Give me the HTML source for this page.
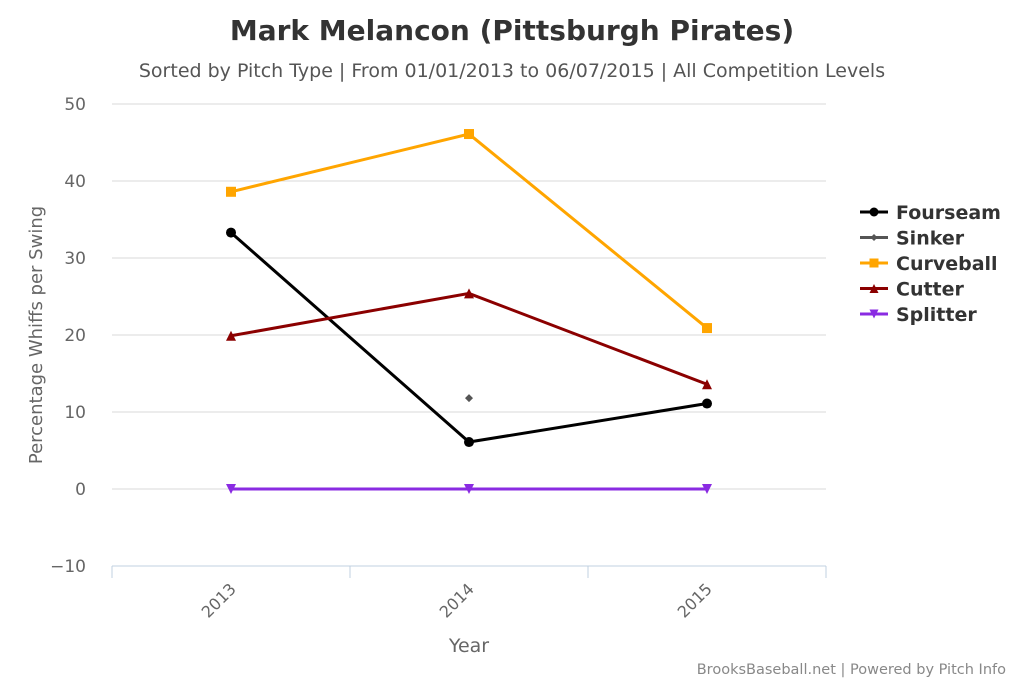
<!DOCTYPE html>
<html><head><meta charset="utf-8"><style>
body{margin:0;background:#fff;}
svg{font-family:"DejaVu Sans","Liberation Sans",sans-serif;}
</style></head><body>
<svg id="c" width="1024" height="683" xmlns="http://www.w3.org/2000/svg">
<text x="512" y="40" text-anchor="middle" font-size="28" font-weight="bold" fill="#333">Mark Melancon (Pittsburgh Pirates)</text>
<text x="512" y="77" text-anchor="middle" font-size="19" fill="#555">Sorted by Pitch Type | From 01/01/2013 to 06/07/2015 | All Competition Levels</text>
<text x="1006" y="674" text-anchor="end" font-size="14.5" fill="#888">BrooksBaseball.net | Powered by Pitch Info</text>
<text transform="translate(42,335) rotate(-90)" text-anchor="middle" font-size="18" fill="#666">Percentage Whiffs per Swing</text>
<text x="469" y="652" text-anchor="middle" font-size="19" fill="#666">Year</text>
<g id="grid"></g><g id="series"></g><g id="legend"></g>
</svg>
<script>
const categories=["2013","2014","2015"];
const yTicks=[-10,0,10,20,30,40,50];
const seriesNames=["Fourseam","Sinker","Curveball","Cutter","Splitter"];
const seriesColors=["#000000","#555555","#ffa500","#8b0000","#8a2be2"];
const seriesMarkers=["circle","diamond","square","triangle","triangle-down"];
const fourseam=[33.3,6.1,11.1];
const sinker=[null,11.8,null];
const curveball=[38.6,46.1,20.9];
const cutter=[19.9,25.4,13.6];
const splitter=[0,0,0];
const allData=[fourseam,sinker,curveball,cutter,splitter];
const NS="http://www.w3.org/2000/svg";
const x0=112,x1=826,yTop=104,yBot=566,yMin=-10,yMax=50;
const xs=i=>x0+(x1-x0)/categories.length*(i+0.5);
const ys=v=>yBot-(v-yMin)/(yMax-yMin)*(yBot-yTop);
function mk(t,a,p){const e=document.createElementNS(NS,t);for(const k in a)e.setAttribute(k,a[k]);p.appendChild(e);return e;}
const grid=document.getElementById('grid');
yTicks.forEach(v=>{
 const l=mk('line',{x1:x0,x2:x1,y1:ys(v),y2:ys(v),stroke:v===yMin?'#c0d0e0':'#d8d8d8','stroke-width':1},grid);
 
 
 const t=mk('text',{x:86,y:ys(v)+6,'text-anchor':'end','font-size':17,fill:'#666'},grid);t.textContent=v===-10?'−10':v;
 
 
});
for(let i=0;i<=categories.length;i++){const X=x0+(x1-x0)/categories.length*i;const l=mk('line',{x1:X,x2:X,y1:yBot,y2:yBot+12,stroke:'#c0d0e0'},grid);
 
 }
categories.forEach((c,i)=>{const t=mk('text',{transform:`translate(${xs(i)+6},${yBot+24}) rotate(-45)`,'text-anchor':'end','font-size':16,fill:'#666'},grid);t.textContent=c;
 
 });
function marker(type,x,y,col,p,s){
 let e;
 if(type==='circle')e=mk('circle',{cx:x,cy:y,r:s,fill:col},p);
 else if(type==='square')e=mk('rect',{x:x-s,y:y-s,width:2*s,height:2*s,fill:col},p);
 else if(type==='diamond')e=mk('polygon',{points:`${x},${y-s} ${x+s},${y} ${x},${y+s} ${x-s},${y}`,fill:col},p);
 else if(type==='triangle')e=mk('polygon',{points:`${x},${y-s} ${x+s},${y+s} ${x-s},${y+s}`,fill:col},p);
 else e=mk('polygon',{points:`${x-s},${y-s} ${x+s},${y-s} ${x},${y+s}`,fill:col},p);
 return e;
}
const sg=document.getElementById('series');
allData.forEach((d,si)=>{
 const g=mk('g',{},sg);
 
 
 let seg=[];
 const flush=()=>{if(seg.length>1){mk('polyline',{points:seg.join(' '),fill:'none',stroke:seriesColors[si],'stroke-width':3},g);}seg=[];};
 d.forEach((v,i)=>{if(v===null){flush();}else seg.push(xs(i)+','+ys(v));});flush();
 d.forEach((v,i)=>{if(v!==null){const m=marker(seriesMarkers[si],xs(i),ys(v),seriesColors[si],g,si===1?4:5);
  
  }});
});
const lg=document.getElementById('legend');
seriesNames.forEach((n,i)=>{
 const y=212+i*25.5;
 const g=mk('g',{},lg);
 
 
 mk('line',{x1:860,x2:888,y1:y,y2:y,stroke:seriesColors[i],'stroke-width':3},g);
 marker(seriesMarkers[i],874,y,seriesColors[i],g,i===1?3.5:4.5);
 const t=mk('text',{x:896,y:y+7,'font-size':19,'font-weight':'bold',fill:'#333'},g);t.textContent=n;
});
</script>
</body></html>
